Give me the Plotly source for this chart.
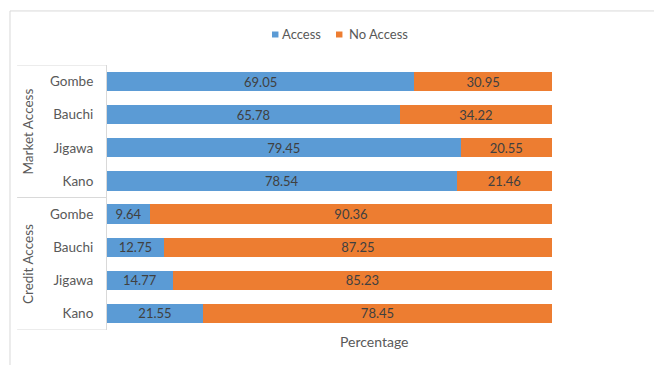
import plotly.graph_objects as go

# Survey results: share of respondents with / without access, by state
groups = ["Market Access", "Credit Access"]
states = ["Gombe", "Bauchi", "Jigawa", "Kano"]
series_names = ["Access", "No Access"]
access = [69.05, 65.78, 79.45, 78.54, 9.64, 12.75, 14.77, 21.55]
no_access = [30.95, 34.22, 20.55, 21.46, 90.36, 87.25, 85.23, 78.45]

tick_text = states * len(groups)
pos = list(range(len(tick_text)))

FONT = "Lato"
GRAY = "#595959"
LINE = "#D9D9D9"
COLORS = ["#5B9BD5", "#ED7D31"]

fig = go.Figure()
for name, vals, color in zip(series_names, [access, no_access], COLORS):
    fig.add_trace(go.Bar(
        y=pos, x=vals, name=name, orientation="h", showlegend=False,
        marker=dict(color=color, line=dict(width=0)),
        texttemplate="%{x:.2f}", textposition="inside",
        insidetextanchor="middle", constraintext="none",
        textfont=dict(family=FONT, size=13, color="#404040"),
        hoverinfo="skip",
    ))

# Chart area border
fig.add_shape(type="rect", xref="paper", yref="paper",
              x0=-0.218, x1=1.25, y0=-0.3, y1=1.204,
              line=dict(color=LINE, width=1), layer="below")

# Legend: small squares with labels, centred above the bars
legend_x = [(0.3708, 0.3888), (0.5146, 0.5393)]
for name, color, (sx, tx) in zip(series_names, COLORS, legend_x):
    fig.add_shape(type="rect", xref="paper", yref="paper",
                  x0=sx, x1=sx + 0.0145, y0=1.1038, y1=1.1264,
                  fillcolor=color, line=dict(width=0))
    fig.add_annotation(text=name, xref="paper", yref="paper",
                       x=tx, y=1.1151, showarrow=False,
                       xanchor="left", yanchor="middle",
                       font=dict(family=FONT, size=13, color=GRAY))

# Category axis group dividers
n = len(states)
for b in [-0.5, n - 0.5, len(pos) - 0.5]:
    fig.add_shape(type="line", xref="paper", yref="y",
                  x0=-0.202, x1=0, y0=b, y1=b,
                  line=dict(color=LINE, width=1))

for i, g in enumerate(groups):
    fig.add_annotation(text=g, xref="paper", yref="y",
                       x=-0.177, y=i * n + (n - 1) / 2, textangle=-90,
                       showarrow=False, xanchor="center", yanchor="middle",
                       font=dict(family=FONT, size=13.5, color=GRAY))

fig.add_annotation(text="Percentage", xref="paper", yref="paper",
                   x=0.6, y=-0.045, showarrow=False,
                   xanchor="center", yanchor="middle",
                   font=dict(family=FONT, size=14, color=GRAY))

fig.update_layout(
    width=654, height=365,
    margin=dict(l=107, r=102, t=65, b=35),
    barmode="stack", bargap=0.42,
    paper_bgcolor="white", plot_bgcolor="white",
    font=dict(family=FONT, color=GRAY),
    showlegend=False,
    xaxis=dict(range=[0, 100], showticklabels=False, showgrid=False,
               zeroline=False, showline=False, fixedrange=True),
    yaxis=dict(tickvals=pos, ticktext=tick_text,
               showgrid=False, zeroline=False, showline=True,
               linecolor=LINE, linewidth=1, ticks="", ticklen=0,
               ticklabelstandoff=10,
               tickfont=dict(family=FONT, size=13.5, color=GRAY),
               range=[len(pos) - 0.5, -0.5]),
)

fig.write_html("out.html")
